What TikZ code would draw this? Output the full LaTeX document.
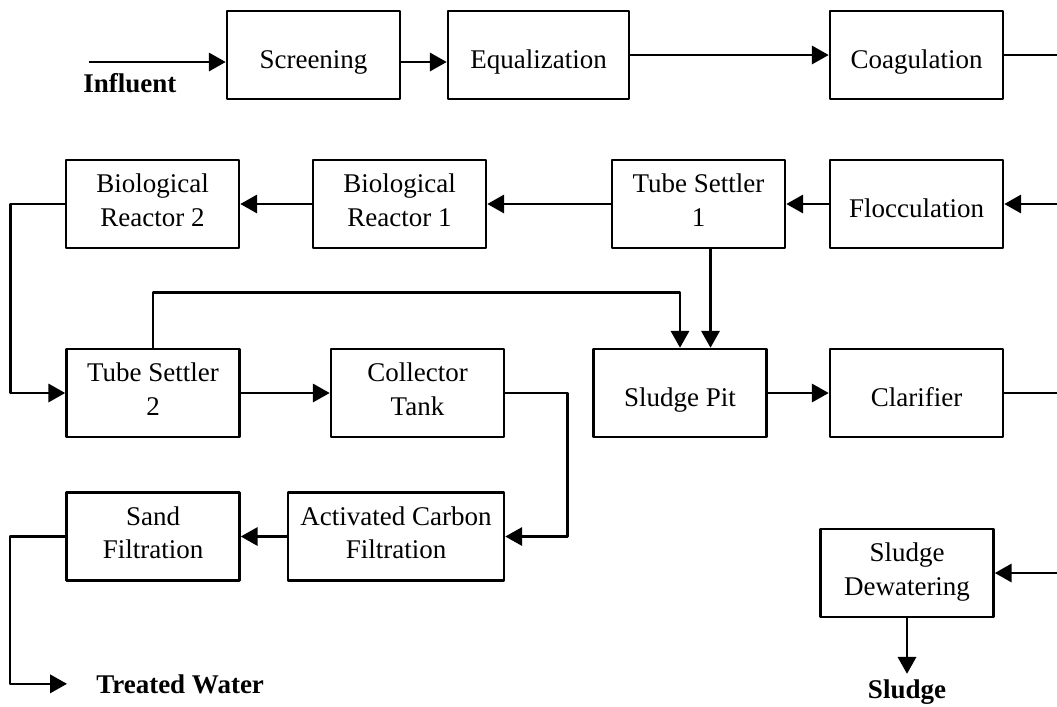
\documentclass[tikz,border=0pt]{standalone}
\usepackage{fontspec}
\setmainfont{Liberation Serif}
\usetikzlibrary{arrows.meta}
\begin{document}
\begin{tikzpicture}[x=0.025cm,y=-0.025cm,line join=round,line width=1.8pt,
	box/.style={draw,rectangle,minimum width=4.325cm,minimum height=2.2cm,inner sep=0pt,align=center,
		text height=0.65cm,text depth=0cm,font=\fontsize{19.2pt}{23.5pt}\selectfont},
	box2/.style={box,text height=1.1cm},
	flow/.style={-{Triangle[length=12pt,width=13pt]}},
	lbl/.style={inner sep=0pt,font=\fontsize{19.2pt}{23.5pt}\selectfont\bfseries}]
	%==Khung hinh
	\useasboundingbox (0,0) rectangle (1057,706);
	%==Cac khoi
	\node[box] (scr) at (313.5,55) {Screening};
	\node[box,minimum width=4.525cm] (eq) at (538.5,55) {Equalization};
	\node[box] (coag) at (916.5,55) {Coagulation};
	\node[box2] (br2) at (152.5,204) {Biological\\Reactor 2};
	\node[box2] (br1) at (399.5,204) {Biological\\Reactor 1};
	\node[box2] (ts1) at (698.5,204) {Tube Settler\\1};
	\node[box] (floc) at (916.5,204) {Flocculation};
	\node[box2] (ts2) at (153,393) {Tube Settler\\2};
	\node[box2] (ct) at (417.5,393) {Collector\\Tank};
	\node[box] (sp) at (680,393) {Sludge Pit};
	\node[box] (clar) at (916.5,393) {Clarifier};
	\node[box2] (sf) at (153,536.5) {Sand\\Filtration};
	\node[box2,minimum width=5.4cm] (acf) at (396,536.5) {Activated Carbon\\Filtration};
	\node[box2] (sd) at (907,573) {Sludge\\Dewatering};
	\node[lbl,anchor=base west] (inf) at (82,92) {Influent};
	\node[lbl,anchor=base west] (tw) at (95,693) {Treated Water};
	\node[lbl,anchor=base] (sl) at (907,698) {Sludge};
	%==Diem mep phai
	\coordinate (in) at (89,62);
	\coordinate (c1) at (1057,55);
	\coordinate (c2) at (1057,204);
	\coordinate (c3) at (1057,393);
	\coordinate (c4) at (1057,573);
	%==Duong noi
	\draw[flow] (in)--(in-|scr.west);
	\draw[flow] ([yshift=-0.175cm]scr.east)--([yshift=-0.175cm]eq.west);
	\draw[flow] (eq.east)--(coag.west);
	\draw (coag.east)--(c1);
	\draw[flow] (c2)--(floc.east);
	\draw[flow] (floc.west)--(ts1.east);
	\draw[flow] (ts1.west)--(br1.east);
	\draw[flow] (br1.west)--(br2.east);
	\draw[flow] (br2.west)--++(-54,0)|-(ts2.west);
	\draw[flow] (ts2.east)--(ct.west);
	\draw[flow] (ts2.north)--++(0,-55)-|(sp.north);
	\draw[flow] ([xshift=0.3cm]ts1.south)--([xshift=0.3cm]ts1.south|-sp.north);
	\draw[flow] (sp.east)--(clar.west);
	\draw (clar.east)--(c3);
	\draw[flow] (ct.east)--++(62,0)|-(acf.east);
	\draw[flow] (acf.west)--(sf.east);
	\draw[flow,shorten >=0.7cm] (sf.west)--++(-55,0)|-(tw.west);
	\draw[flow] (c4)--(sd.east);
	\draw[flow,shorten >=3pt] (sd.south)--(sl.north);
\end{tikzpicture}
\end{document}
